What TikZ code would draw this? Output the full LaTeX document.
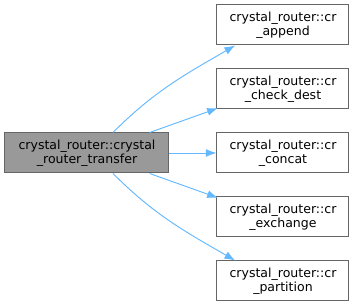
\documentclass[tikz,border=0pt]{standalone}
\usepackage{fontspec}
\setmainfont{DejaVu Sans}
\usepackage{xcolor}
\usetikzlibrary{arrows.meta,calc}
\definecolor{crgrey}{HTML}{999999}
\definecolor{crframe}{HTML}{666666}
\definecolor{crblue}{HTML}{63B8FF}
\tikzset{
crbox/.style={rectangle,draw=crframe,fill=white,line width=0.75pt,align=center,inner sep=1pt,minimum width=99pt,minimum height=30pt,font=\fontsize{9.4}{10.6}\selectfont},
crmain/.style={crbox,fill=crgrey,minimum width=123pt},
crarr/.style={-{Latex[length=8pt,width=6pt]},crblue,line width=0.7pt}
}
\begin{document}
\begin{tikzpicture}[
x=0.75pt,
y=0.75pt
]
\useasboundingbox (0,0) rectangle (355,307);
\node[crmain] (transfer) at (87,154) {crystal\_router::crystal\\\_router\_transfer};
\node[crbox] (append) at (283,282) {crystal\_router::cr\\\_append};
\node[crbox] (checkdest) at (283,218) {crystal\_router::cr\\\_check\_dest};
\node[crbox] (concat) at (283,154) {crystal\_router::cr\\\_concat};
\node[crbox] (exchange) at (283,90) {crystal\_router::cr\\\_exchange};
\node[crbox] (partition) at (283,26) {crystal\_router::cr\\\_partition};
\draw[crarr] ([xshift=19.5pt]transfer.north) to[out=45,in=210] ([xshift=14pt]append.south west);
\draw[crarr] ([xshift=47pt]transfer.north) -- ([xshift=1pt,yshift=1pt]checkdest.south west);
\draw[crarr] (transfer.east) -- (concat.west);
\draw[crarr] ([xshift=47pt]transfer.south) -- ([xshift=1pt,yshift=-1pt]exchange.north west);
\draw[crarr] ([xshift=19.5pt]transfer.south) to[out=-45,in=150] ([xshift=14pt]partition.north west);
\end{tikzpicture}
\end{document}
